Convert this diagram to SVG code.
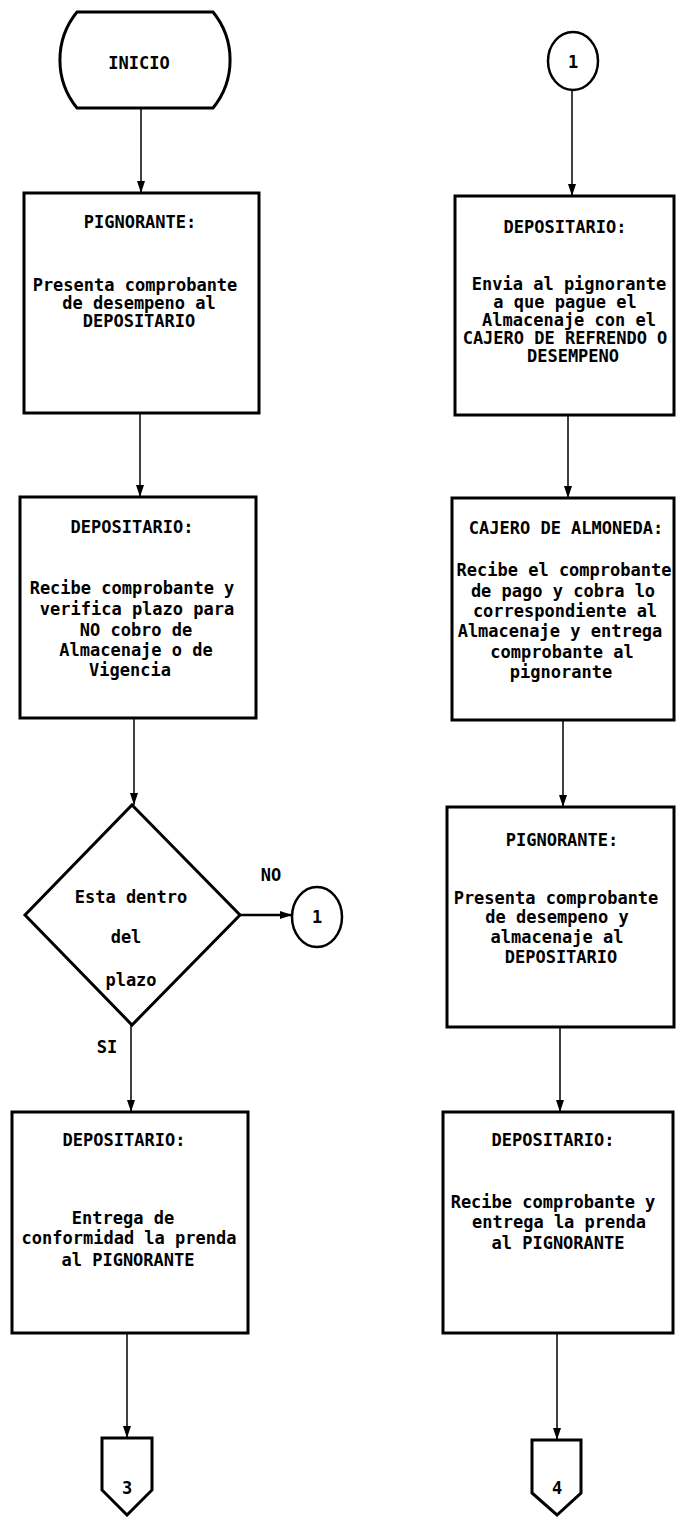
<svg xmlns="http://www.w3.org/2000/svg" width="677" height="1517" viewBox="0 0 677 1517">
<style>
.s{fill:#fff;stroke:#000;stroke-width:3}
.c{fill:none;stroke:#000;stroke-width:1.5}
text{font-family:"DejaVu Sans Mono","Liberation Mono",monospace;font-size:17px;font-weight:bold;fill:#000;text-anchor:middle}
</style>
<defs>
<marker id="ah" markerWidth="12" markerHeight="8" refX="12" refY="4" orient="auto" markerUnits="userSpaceOnUse" viewBox="0 0 12 8">
<path d="M0,0 L12,4 L0,8 z" fill="#000"/>
</marker>
</defs>
<rect width="677" height="1517" fill="#fff"/>
<g id="connectors">
<line class="c" x1="141" y1="108" x2="141" y2="193" marker-end="url(#ah)"/>
<line class="c" x1="140" y1="413" x2="140" y2="497" marker-end="url(#ah)"/>
<line class="c" x1="134" y1="718" x2="134" y2="805" marker-end="url(#ah)"/>
<line class="c" x1="131" y1="1025" x2="131" y2="1112" marker-end="url(#ah)"/>
<line class="c" x1="240" y1="915" x2="292" y2="915" marker-end="url(#ah)" style="stroke-width:2.5"/>
<line class="c" x1="127" y1="1333" x2="127" y2="1438" marker-end="url(#ah)"/>
<line class="c" x1="572" y1="90" x2="572" y2="196" marker-end="url(#ah)"/>
<line class="c" x1="568" y1="415" x2="568" y2="498" marker-end="url(#ah)"/>
<line class="c" x1="563" y1="720" x2="563" y2="807" marker-end="url(#ah)"/>
<line class="c" x1="560" y1="1027" x2="560" y2="1112" marker-end="url(#ah)"/>
<line class="c" x1="557" y1="1333" x2="557" y2="1440" marker-end="url(#ah)"/>
</g>
<g id="inicio">
<path class="s" d="M77,12 L213,12 A76,76 0 0 1 213,108 L77,108 A76,76 0 0 1 77,12 Z"/>
<text x="139" y="69">INICIO</text>
</g>
<g id="pignorante1">
<rect class="s" x="24" y="193" width="235" height="220"/>
<text x="140" y="228">PIGNORANTE:</text>
<text x="135" y="291">Presenta comprobante</text>
<text x="139" y="309">de desempeno al</text>
<text x="139" y="327">DEPOSITARIO</text>
</g>
<g id="depositario1">
<rect class="s" x="20" y="497" width="236" height="221"/>
<text x="132" y="533">DEPOSITARIO:</text>
<text x="132" y="594">Recibe comprobante y</text>
<text x="137" y="615">verifica plazo para</text>
<text x="136" y="636">NO cobro de</text>
<text x="136" y="656">Almacenaje o de</text>
<text x="130" y="676">Vigencia</text>
</g>
<g id="decision">
<path class="s" d="M132,805 L240,915 L132,1025 L25,915 Z"/>
<text x="131" y="903">Esta dentro</text>
<text x="126" y="943">del</text>
<text x="131" y="986">plazo</text>
<text x="271" y="881">NO</text>
<text x="107" y="1053">SI</text>
</g>
<g id="conector1a">
<ellipse class="s" cx="317" cy="917" rx="25" ry="30" style="stroke-width:2.5"/>
<text x="317" y="923">1</text>
</g>
<g id="depositario2">
<rect class="s" x="12" y="1112" width="236" height="221"/>
<text x="124" y="1146">DEPOSITARIO:</text>
<text x="123" y="1224">Entrega de</text>
<text x="129" y="1244">conformidad la prenda</text>
<text x="128" y="1266">al PIGNORANTE</text>
</g>
<g id="salida3">
<path class="s" d="M102,1438 L152,1438 L152,1490 L127,1515 L102,1490 Z"/>
<text x="127" y="1494">3</text>
</g>
<g id="conector1b">
<ellipse class="s" cx="573" cy="61" rx="25" ry="29" style="stroke-width:2.5"/>
<text x="573" y="68">1</text>
</g>
<g id="depositario3">
<rect class="s" x="455" y="196" width="219" height="219"/>
<text x="565" y="233">DEPOSITARIO:</text>
<text x="569" y="290">Envia al pignorante</text>
<text x="565" y="308">a que pague el</text>
<text x="569" y="326">Almacenaje con el</text>
<text x="565" y="344">CAJERO DE REFRENDO O</text>
<text x="573" y="362">DESEMPENO</text>
</g>
<g id="cajero">
<rect class="s" x="452" y="498" width="222" height="222"/>
<text x="566" y="534">CAJERO DE ALMONEDA:</text>
<text x="564" y="576">Recibe el comprobante</text>
<text x="563" y="597">de pago y cobra lo</text>
<text x="565" y="617">correspondiente al</text>
<text x="560" y="637">Almacenaje y entrega</text>
<text x="562" y="658">comprobante al</text>
<text x="561" y="678">pignorante</text>
</g>
<g id="pignorante2">
<rect class="s" x="447" y="807" width="227" height="220"/>
<text x="562" y="846">PIGNORANTE:</text>
<text x="556" y="904">Presenta comprobante</text>
<text x="557" y="923">de desempeno y</text>
<text x="557" y="943">almacenaje al</text>
<text x="561" y="963">DEPOSITARIO</text>
</g>
<g id="depositario4">
<rect class="s" x="443" y="1112" width="230" height="221"/>
<text x="553" y="1146">DEPOSITARIO:</text>
<text x="553" y="1208">Recibe comprobante y</text>
<text x="559" y="1228">entrega la prenda</text>
<text x="558" y="1249">al PIGNORANTE</text>
</g>
<g id="salida4">
<path class="s" d="M532,1440 L581,1440 L581,1493 L557,1515 L532,1493 Z"/>
<text x="557" y="1494">4</text>
</g>
</svg>
